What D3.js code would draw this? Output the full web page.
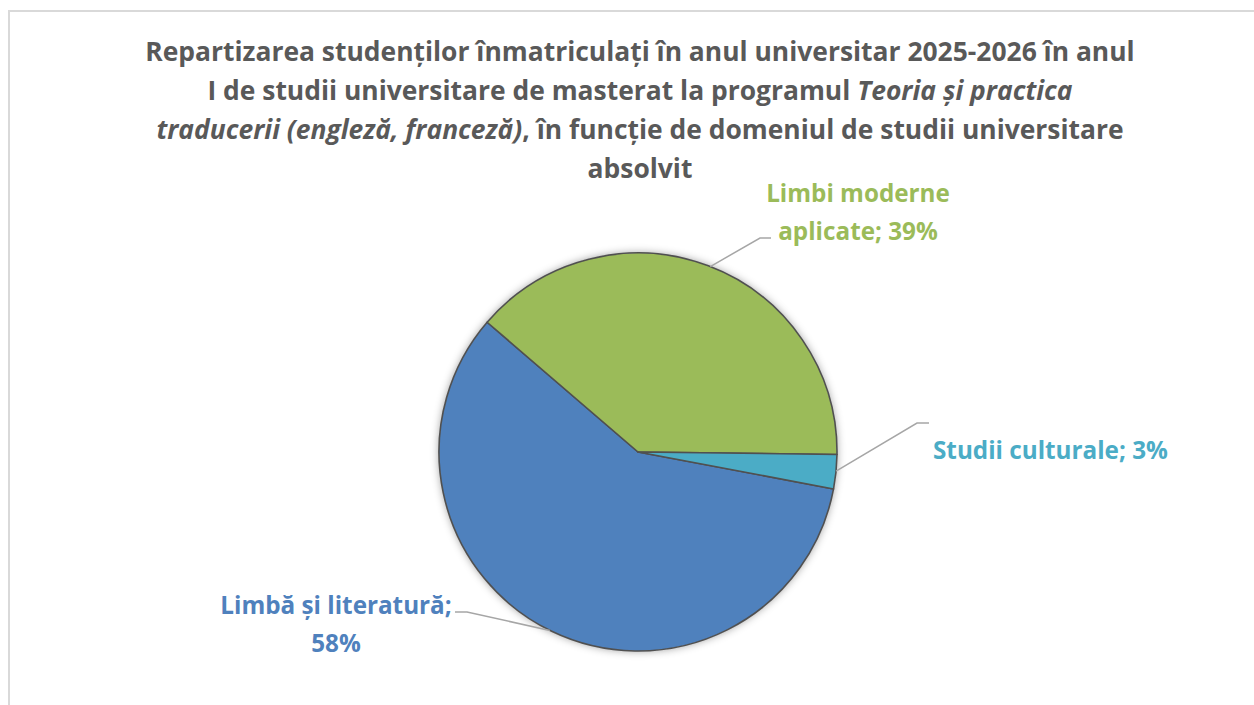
<!DOCTYPE html>
<html>
<head>
<meta charset="utf-8">
<script src="https://cdn.jsdelivr.net/npm/d3@7"></script>
<style>
  body { margin: 0; background: #fff; }
  svg { display: block; }
</style>
</head>
<body>
<svg id="chart"></svg>
<script>
// data (shares of 36 students)
const categories = ["Limbă și literatură", "Limbi moderne aplicate", "Studii culturale"];
const values = [21, 14, 1];
const labelText = [["Limbă și literatură;", "58%"], ["Limbi moderne", "aplicate; 39%"], ["Studii culturale; 3%"]];
const colors = ["#4f81bd", "#9bbb59", "#4bacc6"];

const svgWidth = 1254, svgHeight = 705;
const svg = d3.select("#chart").attr("width", svgWidth).attr("height", svgHeight);

// chart border
svg.append("rect")
    .attr("x", 9).attr("y", 11)
    .attr("width", 1270).attr("height", 720)
    .attr("fill", "#fff").attr("stroke", "#d9d9d9").attr("stroke-width", 2);

// title
const font = "'Open Sans', Lato, sans-serif";
const title = svg.append("text")
    .attr("text-anchor", "middle")
    .attr("fill", "#595959")
    .style("font-family", font)
    .style("font-weight", "bold")
    .style("font-size", "24px");
const titleLines = [
    [["Repartizarea studenților înmatriculați în anul universitar 2025-2026 în anul", false]],
    [["I de studii universitare de masterat la programul ", false], ["Teoria și practica", true]],
    [["traducerii (engleză, franceză)", true], [", în funcție de domeniul de studii universitare", false]],
    [["absolvit", false]]
];
const tspans = titleLines.map((line, i) => {
    const t = title.append("tspan").attr("x", 640).attr("y", 61 + i * 39);
    line.forEach(([s, it]) => {
        t.append("tspan").style("font-style", it ? "italic" : "normal").text(s);
    });
    return t;
});
// fit the first title line to the width it has in the picture (~990px)
const w0 = tspans[0].node().getComputedTextLength();
title.style("font-size", (24 * 990 / w0) + "px");

// pie
const cx = 638, cy = 452, radius = 199;
const startAngle = 100.7 * Math.PI / 180;

const pie = d3.pie().sort(null).value(d => d)
    .startAngle(startAngle).endAngle(startAngle + 2 * Math.PI);
const arc = d3.arc().innerRadius(0).outerRadius(radius);
const arcs = pie(values);

const defs = svg.append("defs");
const shadow = defs.append("filter").attr("id", "shadow")
    .attr("x", "-10%").attr("y", "-10%").attr("width", "120%").attr("height", "120%");
shadow.append("feDropShadow")
    .attr("dx", 0).attr("dy", 0).attr("stdDeviation", 4)
    .attr("flood-color", "#000").attr("flood-opacity", 0.4);

const g = svg.append("g").attr("transform", `translate(${cx},${cy})`);
g.append("circle").attr("r", radius).attr("fill", "#fff").attr("filter", "url(#shadow)");
g.selectAll("path.slice")
    .data(arcs)
    .enter().append("path")
    .attr("class", "slice")
    .attr("d", arc)
    .attr("fill", (d, i) => colors[i])
    .attr("stroke", "#505050")
    .attr("stroke-width", 1.6)
    .attr("stroke-linejoin", "round");

// leader lines: angle on the arc (deg, clockwise from 12 o'clock), elbow, end
const pt = (a, r) => [Math.sin(a) * r, -Math.cos(a) * r];
const leaders = [
    { a: 206.3, elbow: [467, 612], end: [455, 612] },
    { a: 21.3, elbow: [760, 238], end: [771, 238] },
    { a: 95.5, elbow: [917, 423], end: [929, 423] }
];
g.selectAll("polyline.leader")
    .data(leaders)
    .enter().append("polyline")
    .attr("class", "leader")
    .attr("points", d => [pt(d.a * Math.PI / 180, radius),
        [d.elbow[0] - cx, d.elbow[1] - cy], [d.end[0] - cx, d.end[1] - cy]].map(p => p.join(",")).join(" "))
    .attr("fill", "none")
    .attr("stroke", "#a6a6a6")
    .attr("stroke-width", 1.5);

// data labels
const labelPos = [
    { x: 336, y: 614, anchor: "middle" },
    { x: 858, y: 202, anchor: "middle" },
    { x: 933, y: 459, anchor: "start" }
];
const labels = labelPos.map((p, i) => {
    const t = svg.append("text")
        .attr("text-anchor", p.anchor)
        .attr("fill", colors[i])
        .style("font-family", font)
        .style("font-weight", "bold")
        .style("font-size", "22px");
    labelText[i].forEach((s, j) => {
        t.append("tspan").attr("x", p.x).attr("y", p.y + j * 38).text(s);
    });
    return t;
});
// fit "Studii culturale; 3%" to its width in the picture (~235px)
const lw = labels[2].node().getComputedTextLength();
labels.forEach(t => t.style("font-size", (22 * 235 / lw) + "px"));
</script>
</body>
</html>
